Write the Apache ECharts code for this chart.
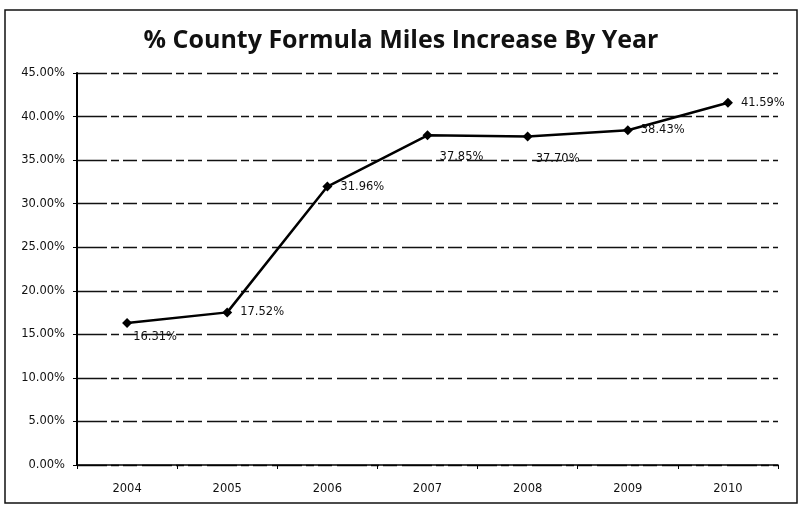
<!DOCTYPE html>
<html><head><meta charset="utf-8">
<script src="https://cdn.jsdelivr.net/npm/echarts@6/dist/echarts.min.js"></script>
<style>html,body{margin:0;padding:0;background:#fff}#c{width:802px;height:506px}</style>
</head><body><div id="c"></div>
<script>
const years = ['2004','2005','2006','2007','2008','2009','2010'];
const increasePct = [16.31, 17.52, 31.96, 37.85, 37.70, 38.43, 41.59];
const yTicks = [0,5,10,15,20,25,30,35,40,45];

const belowIdx = {0:[28,14], 3:[34,22], 4:[30,22]};
const data = increasePct.map((v,i)=>{
  const item = {value:v};
  if (belowIdx[i]) {
    item.label = {position:'inside', offset: belowIdx[i]};
  }
  return item;
});

const chart = echarts.init(document.getElementById('c'));
chart.setOption({
  animation:false,
  backgroundColor:'#fff',
  title:{text:'% County Formula Miles Increase By Year', left:'center', top:23,
    textStyle:{fontFamily:'Open Sans', fontWeight:'bold', fontSize:25, color:'#111'}},
  grid:{left:77, right:24, top:73, bottom:41},
  xAxis:{type:'category', data:years, boundaryGap:true,
    axisLine:{lineStyle:{color:'#000', width:1.5}},
    axisTick:{show:true, length:4, lineStyle:{color:'#000'}},
    axisLabel:{fontFamily:'DejaVu Sans', fontSize:11.5, color:'#111', margin:18}},
  yAxis:{type:'value', min:0, max:45, interval:5,
    axisLine:{show:true, lineStyle:{color:'#000', width:2}},
    axisTick:{show:true, length:4, lineStyle:{color:'#000'}},
    axisLabel:{fontFamily:'DejaVu Sans', fontSize:11.5, color:'#111', margin:12,
      formatter: v => v.toFixed(2)+'%'},
    splitLine:{show:true, lineStyle:{color:'#111', width:1.3, type:[30,4,8,4,14,5]}}},
  series:[{type:'line', data:data, symbol:'diamond', symbolSize:10,
    lineStyle:{color:'#000', width:2.5}, itemStyle:{color:'#000'},
    label:{show:true, position:'right', distance:8, fontFamily:'DejaVu Sans', fontSize:11.5, color:'#111',
      formatter: p => p.value.toFixed(2)+'%'}}],
  graphic:[{type:'rect', shape:{x:5, y:10, width:792, height:493},
    style:{fill:null, stroke:'#111', lineWidth:1.5}}]
});
</script></body></html>
